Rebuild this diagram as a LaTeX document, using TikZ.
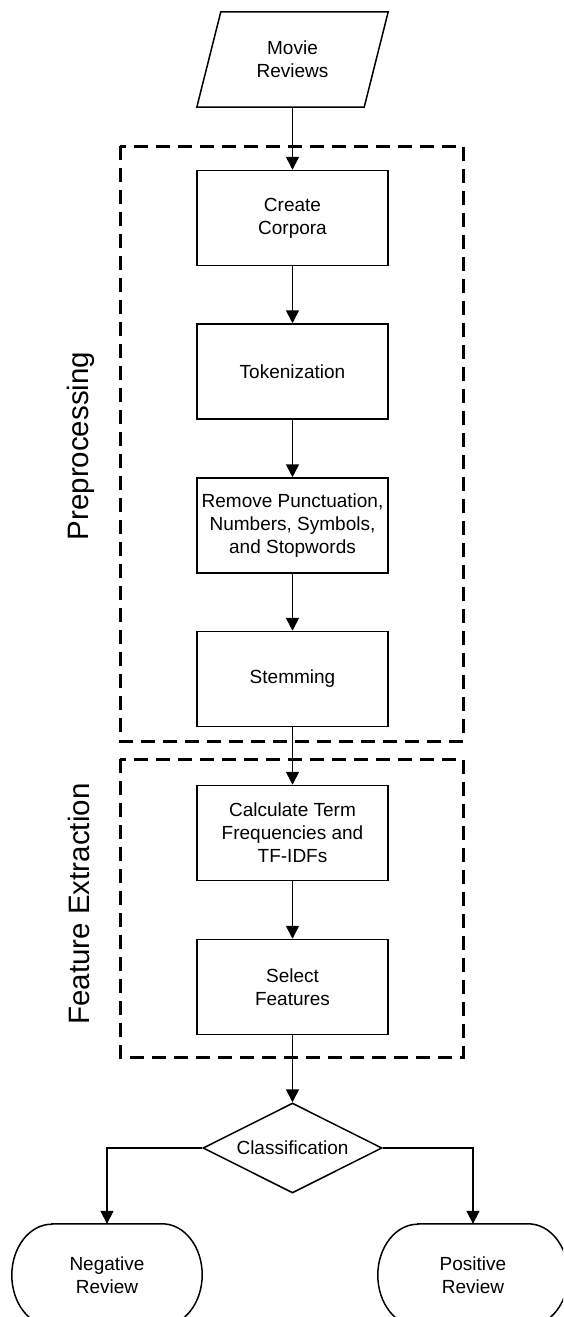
\documentclass[tikz,border=0pt]{standalone}
\usepackage{fontspec}
\setmainfont{Liberation Sans}
\usetikzlibrary{shapes.geometric,arrows.meta}

\begin{document}
\begin{tikzpicture}[x=1pt,y=1pt,
  txt/.style={font=\fontsize{19}{23}\selectfont, align=center},
  proc/.style={txt, draw, line width=1.5pt, minimum width=191pt, minimum height=95pt, inner sep=0pt},
  flow/.style={line width=1.6pt, -{Triangle[length=13pt,width=13pt]}},
  group/.style={draw, line width=3pt, dash pattern=on 14pt off 8pt},
  grouplabel/.style={rotate=90, anchor=base, inner sep=0pt, font=\fontsize{29.5}{35}\selectfont},
  term/.style={txt, minimum width=190pt, minimum height=102pt, inner sep=0pt},
  decision/.style={txt, diamond, draw, line width=1.5pt, aspect=2, inner sep=0pt, minimum width=179pt, minimum height=90pt}
]
\clip (0,0) rectangle (563,-1317);

% stage frames
\draw[group] (120,-146) rectangle (463,-741);
\draw[group] (120,-759) rectangle (463,-1057);
\node[grouplabel] (pre) at (88,-446) {Preprocessing};
\node[grouplabel] (fe) at (89,-904) {Feature Extraction};

% input (parallelogram)
\node[txt, minimum width=191pt, minimum height=95pt, inner sep=0pt] (rev) at (292.5,-59.5) {Movie\\Reviews};
\draw[line width=1.5pt] ([xshift=24pt]rev.north west) -- (rev.north east)
  -- ([xshift=-24pt]rev.south east) -- (rev.south west) -- cycle;

% processing steps
\node[proc] (corp) at (292.5,-218) {Create\\Corpora};
\node[proc] (tok)  at (292.5,-371.5) {Tokenization};
\node[proc] (rem)  at (292.5,-525.5) {Remove Punctuation,\\Numbers, Symbols,\\and Stopwords};
\node[proc] (stem) at (292.5,-679) {Stemming};
\node[proc] (calc) at (292.5,-833) {Calculate Term\\Frequencies and\\TF-IDFs};
\node[proc] (sel)  at (292.5,-987) {Select\\Features};

\node[decision] (cls) at (292.5,-1148) {Classification};

% terminators with elliptical ends
\node[term] (neg) at (107,-1275) {Negative\\Review};
\node[term] (pos) at (473,-1275) {Positive\\Review};
\foreach \t in {neg,pos}{
  \draw[line width=1.5pt] ([xshift=40pt]\t.north west) -- ([xshift=-40pt]\t.north east)
    arc[start angle=90, end angle=-90, x radius=40pt, y radius=51pt]
    -- ([xshift=40pt]\t.south west)
    arc[start angle=270, end angle=90, x radius=40pt, y radius=51pt] -- cycle;
}

% connectors
\draw[flow] (rev.south) -- (corp.north);
\draw[flow] (corp.south) -- (tok.north);
\draw[flow] (tok.south) -- (rem.north);
\draw[flow] (rem.south) -- (stem.north);
\draw[flow] (stem.south) -- (calc.north);
\draw[flow] (calc.south) -- (sel.north);
\draw[flow] (sel.south) -- (cls.north);
\draw[flow] (cls.west) -| (neg.north);
\draw[flow] (cls.east) -| (pos.north);
\end{tikzpicture}
\end{document}
